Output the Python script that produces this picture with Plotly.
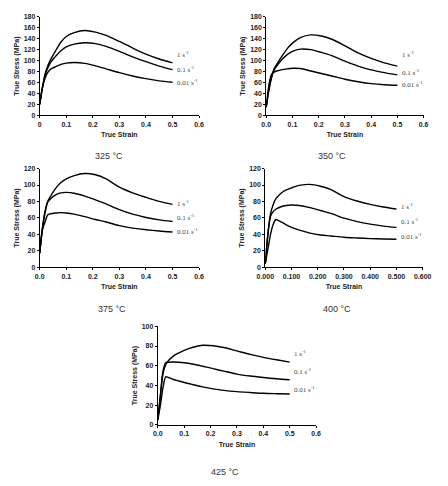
import plotly.graph_objects as go

# ---- data ----
strain = [0, 0.01, 0.02, 0.03, 0.04, 0.06, 0.08, 0.10, 0.13, 0.17, 0.21, 0.25, 0.30, 0.35, 0.40, 0.45, 0.50]

stress_325_1 = [20, 50, 75, 90, 101, 118, 134, 144, 151, 155, 152, 146, 135, 123, 112, 103, 96]
stress_325_01 = [20, 50, 73, 86, 96, 108, 118, 125, 130, 132.5, 131, 126, 117, 107, 98, 90, 83.5]
stress_325_001 = [20, 50, 68, 78, 84, 89, 93, 95.5, 96.5, 95, 90.5, 85, 78, 72, 67, 63, 60.5]

stress_350_1 = [15, 45, 68, 85, 93, 108, 122, 132, 142, 147, 145, 139, 127, 114, 104, 96, 90]
stress_350_01 = [15, 48, 70, 83, 90, 102, 111, 117, 121, 120, 115, 109, 99, 90, 83, 78, 74]
stress_350_001 = [15, 55, 75, 79, 81, 83.5, 85, 86, 85.5, 81, 76.5, 72, 66, 61.5, 58, 56, 55]

stress_375_1 = [17, 45, 66, 80, 86, 96, 103, 107.5, 111.5, 114, 112.5, 107.5, 97.5, 90.5, 85, 80, 76.5]
stress_375_01 = [17, 48, 68, 79, 83, 88, 90.5, 91, 90, 86.5, 82, 77, 70, 64.5, 60.5, 57.5, 55.6]
stress_375_001 = [17, 45, 55, 63.6, 65, 66, 66.4, 66, 64.5, 61.5, 58, 55, 50.5, 47.5, 45.6, 44, 42.8]

stress_400_1 = [4, 40, 65, 76, 83, 90, 94, 96.5, 99.5, 100.8, 98.5, 94.5, 86, 80.5, 76.4, 73.3, 70.8]
stress_400_01 = [4, 40, 62, 67.6, 70.5, 73.5, 75, 75.6, 75, 72.5, 69, 65.5, 59.6, 55.5, 52.4, 50, 48.4]
stress_400_001 = [4, 22, 40, 52, 58, 55, 51.5, 48.4, 45, 41.5, 39.2, 38, 36.4, 35.5, 34.8, 34.3, 34]

stress_425_1 = [5, 30, 52, 61, 65, 70, 73, 75.5, 78.5, 80.7, 80.3, 78.5, 75, 71.5, 68.5, 66, 63.7]
stress_425_01 = [5, 30, 55, 63, 63.5, 63.7, 63.5, 63, 61.8, 59.5, 57, 54.5, 51.5, 49.5, 48, 46.7, 45.7]
stress_425_001 = [5, 20, 38, 48.7, 48, 46, 44.5, 43, 41, 38.5, 36.5, 35, 33.7, 32.8, 32, 31.6, 31.3]

rate_labels = ["1 s<sup>-1</sup>", "0.1 s<sup>-1</sup>", "0.01 s<sup>-1</sup>"]
temps = ["325 °C", "350 °C", "375 °C", "400 °C", "425 °C"]

x_tickvals = [0, 0.1, 0.2, 0.3, 0.4, 0.5, 0.6]
x_ticktext_325 = ["0", "0.1", "0.2", "0.3", "0.4", "0.5", "0.6"]
x_ticktext_1d = ["0.0", "0.1", "0.2", "0.3", "0.4", "0.5", "0.6"]
x_ticktext_3d = ["0.000", "0.100", "0.200", "0.300", "0.400", "0.500", "0.600"]

y_max = [180, 180, 120, 120, 100]

label_y = [
    [111, 84.6, 60.6],
    [111, 79, 56],
    [78, 60, 43],
    [74, 55.6, 37],
    [72, 54, 35.7],
]

panels = [
    ([stress_325_1, stress_325_01, stress_325_001], x_ticktext_325),
    ([stress_350_1, stress_350_01, stress_350_001], x_ticktext_1d),
    ([stress_375_1, stress_375_01, stress_375_001], x_ticktext_1d),
    ([stress_400_1, stress_400_01, stress_400_001], x_ticktext_3d),
    ([stress_425_1, stress_425_01, stress_425_001], x_ticktext_1d),
]

# ---- layout geometry (pixels) ----
W, H = 448, 486
boxes = [  # left, right, top, bottom in px
    (32, 198, 13, 113),
    (268, 432, 13, 113),
    (32, 198, 167, 267),
    (267, 431, 167, 267),
    (155, 320, 327, 427),
]
caption_pos = [(104, 154), (337, 154), (107, 309), (342, 309), (225, 475)]

fig = go.Figure()
layout = dict(
    width=W, height=H, margin=dict(l=0, r=0, t=0, b=0),
    paper_bgcolor="white", plot_bgcolor="white", showlegend=False,
    font=dict(family="Liberation Sans, Arial, sans-serif", color="#222"),
)
annotations = []
tickfont = dict(size=7, family="Liberation Sans, Arial, sans-serif", color="#222")
titlefont = dict(size=7, family="Liberation Sans, Arial, sans-serif", color="#222")

for i, ((curves, xtt), (l, r, t, b)) in enumerate(zip(panels, boxes)):
    n = i + 1
    xa = "x" if n == 1 else f"x{n}"
    ya = "y" if n == 1 else f"y{n}"
    for c in curves:
        fig.add_trace(go.Scatter(
            x=strain, y=c, mode="lines", xaxis=xa, yaxis=ya,
            line=dict(color="black", width=1.4, shape="spline", smoothing=0.8),
            hoverinfo="skip",
        ))
    layout[f"xaxis{n}" if n > 1 else "xaxis"] = dict(
        domain=[l / W, r / W], anchor=ya, range=[0, 0.6],
        tickvals=x_tickvals, ticktext=[f"<b>{s}</b>" for s in xtt],
        showgrid=False, zeroline=False, showline=True, linecolor="black", linewidth=1,
        ticks="outside", ticklen=2, tickcolor="black", tickfont=tickfont,
        title=dict(text="<b>True Strain</b>", font=titlefont, standoff=5),
    )
    yvals = list(range(0, y_max[i] + 1, 20))
    layout[f"yaxis{n}" if n > 1 else "yaxis"] = dict(
        domain=[1 - b / H, 1 - t / H], anchor=xa, range=[0, y_max[i]],
        tickvals=yvals, ticktext=[f"<b>{v}</b>" for v in yvals],
        showgrid=False, zeroline=False, showline=True, linecolor="black", linewidth=1,
        ticks="outside", ticklen=2, tickcolor="black", tickfont=tickfont,
        title=dict(text="<b>True Stress (MPa)</b>", font=titlefont, standoff=3),
    )
    for lab, yy in zip(rate_labels, label_y[i]):
        annotations.append(dict(
            x=0.51, y=yy, xref=xa, yref=ya, text=lab, showarrow=False,
            xanchor="left", yanchor="middle",
            font=dict(size=7, family="Liberation Serif, serif", color="#444"),
        ))
    cx, cy = caption_pos[i]
    annotations.append(dict(
        x=cx / W, y=1 - cy / H, xref="paper", yref="paper", text=temps[i],
        showarrow=False, xanchor="center", yanchor="middle",
        font=dict(size=9, family="Liberation Sans, Arial, sans-serif", color="#333"),
    ))

layout["annotations"] = annotations
fig.update_layout(**layout)
fig.write_html("out.html")
